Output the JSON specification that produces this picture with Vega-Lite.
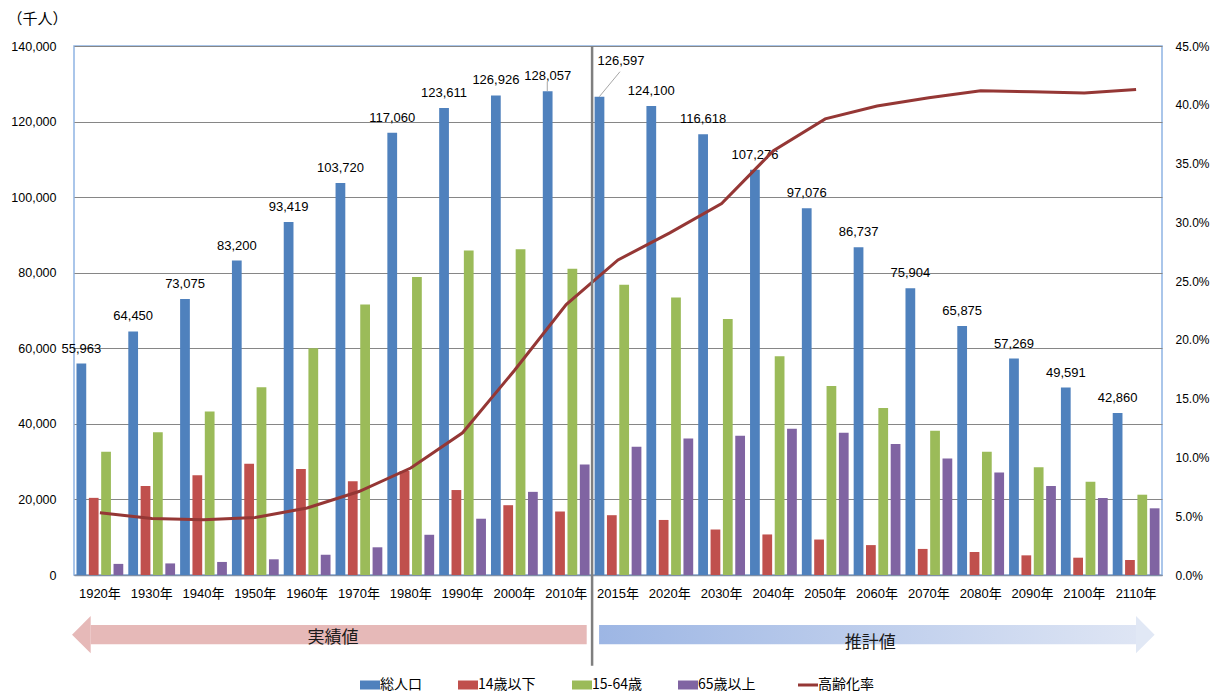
{
  "$schema": "https://vega.github.io/schema/vega-lite/v6.json",
  "width": 1088,
  "height": 529,
  "autosize": {"type": "none"},
  "padding": {"left": 74, "top": 46, "right": 48, "bottom": 119},
  "config": {
    "font": "Liberation Sans, Noto Sans CJK JP",
    "view": {"stroke": "#8EB4E3", "strokeWidth": 1.5},
    "legend": {"layout": {"bottom": {"anchor": "middle"}}}
  },
  "datasets": {
    "pop": [
      {"year": "1920年", "series": "総人口", "value": 55963},
      {"year": "1920年", "series": "14歳以下", "value": 20416},
      {"year": "1920年", "series": "15-64歳", "value": 32605},
      {"year": "1920年", "series": "65歳以上", "value": 2941},
      {"year": "1930年", "series": "総人口", "value": 64450},
      {"year": "1930年", "series": "14歳以下", "value": 23579},
      {"year": "1930年", "series": "15-64歳", "value": 37807},
      {"year": "1930年", "series": "65歳以上", "value": 3064},
      {"year": "1940年", "series": "総人口", "value": 73075},
      {"year": "1940年", "series": "14歳以下", "value": 26369},
      {"year": "1940年", "series": "15-64歳", "value": 43252},
      {"year": "1940年", "series": "65歳以上", "value": 3454},
      {"year": "1950年", "series": "総人口", "value": 83200},
      {"year": "1950年", "series": "14歳以下", "value": 29428},
      {"year": "1950年", "series": "15-64歳", "value": 49658},
      {"year": "1950年", "series": "65歳以上", "value": 4155},
      {"year": "1960年", "series": "総人口", "value": 93419},
      {"year": "1960年", "series": "14歳以下", "value": 28067},
      {"year": "1960年", "series": "15-64歳", "value": 60002},
      {"year": "1960年", "series": "65歳以上", "value": 5350},
      {"year": "1970年", "series": "総人口", "value": 103720},
      {"year": "1970年", "series": "14歳以下", "value": 24823},
      {"year": "1970年", "series": "15-64歳", "value": 71566},
      {"year": "1970年", "series": "65歳以上", "value": 7331},
      {"year": "1980年", "series": "総人口", "value": 117060},
      {"year": "1980年", "series": "14歳以下", "value": 27507},
      {"year": "1980年", "series": "15-64歳", "value": 78835},
      {"year": "1980年", "series": "65歳以上", "value": 10647},
      {"year": "1990年", "series": "総人口", "value": 123611},
      {"year": "1990年", "series": "14歳以下", "value": 22486},
      {"year": "1990年", "series": "15-64歳", "value": 85904},
      {"year": "1990年", "series": "65歳以上", "value": 14895},
      {"year": "2000年", "series": "総人口", "value": 126926},
      {"year": "2000年", "series": "14歳以下", "value": 18472},
      {"year": "2000年", "series": "15-64歳", "value": 86220},
      {"year": "2000年", "series": "65歳以上", "value": 22005},
      {"year": "2010年", "series": "総人口", "value": 128057},
      {"year": "2010年", "series": "14歳以下", "value": 16803},
      {"year": "2010年", "series": "15-64歳", "value": 81032},
      {"year": "2010年", "series": "65歳以上", "value": 29246},
      {"year": "2015年", "series": "総人口", "value": 126597},
      {"year": "2015年", "series": "14歳以下", "value": 15827},
      {"year": "2015年", "series": "15-64歳", "value": 76818},
      {"year": "2015年", "series": "65歳以上", "value": 33952},
      {"year": "2020年", "series": "総人口", "value": 124100},
      {"year": "2020年", "series": "14歳以下", "value": 14568},
      {"year": "2020年", "series": "15-64歳", "value": 73408},
      {"year": "2020年", "series": "65歳以上", "value": 36124},
      {"year": "2030年", "series": "総人口", "value": 116618},
      {"year": "2030年", "series": "14歳以下", "value": 12039},
      {"year": "2030年", "series": "15-64歳", "value": 67730},
      {"year": "2030年", "series": "65歳以上", "value": 36849},
      {"year": "2040年", "series": "総人口", "value": 107276},
      {"year": "2040年", "series": "14歳以下", "value": 10732},
      {"year": "2040年", "series": "15-64歳", "value": 57866},
      {"year": "2040年", "series": "65歳以上", "value": 38678},
      {"year": "2050年", "series": "総人口", "value": 97076},
      {"year": "2050年", "series": "14歳以下", "value": 9387},
      {"year": "2050年", "series": "15-64歳", "value": 50013},
      {"year": "2050年", "series": "65歳以上", "value": 37676},
      {"year": "2060年", "series": "総人口", "value": 86737},
      {"year": "2060年", "series": "14歳以下", "value": 7912},
      {"year": "2060年", "series": "15-64歳", "value": 44183},
      {"year": "2060年", "series": "65歳以上", "value": 34642},
      {"year": "2070年", "series": "総人口", "value": 75904},
      {"year": "2070年", "series": "14歳以下", "value": 6900},
      {"year": "2070年", "series": "15-64歳", "value": 38200},
      {"year": "2070年", "series": "65歳以上", "value": 30800},
      {"year": "2080年", "series": "総人口", "value": 65875},
      {"year": "2080年", "series": "14歳以下", "value": 6080},
      {"year": "2080年", "series": "15-64歳", "value": 32650},
      {"year": "2080年", "series": "65歳以上", "value": 27150},
      {"year": "2090年", "series": "総人口", "value": 57269},
      {"year": "2090年", "series": "14歳以下", "value": 5200},
      {"year": "2090年", "series": "15-64歳", "value": 28500},
      {"year": "2090年", "series": "65歳以上", "value": 23550},
      {"year": "2100年", "series": "総人口", "value": 49591},
      {"year": "2100年", "series": "14歳以下", "value": 4580},
      {"year": "2100年", "series": "15-64歳", "value": 24700},
      {"year": "2100年", "series": "65歳以上", "value": 20350},
      {"year": "2110年", "series": "総人口", "value": 42860},
      {"year": "2110年", "series": "14歳以下", "value": 3970},
      {"year": "2110年", "series": "15-64歳", "value": 21250},
      {"year": "2110年", "series": "65歳以上", "value": 17650}
    ],
    "rate": [
      {"year": "1920年", "rate": 5.3},
      {"year": "1930年", "rate": 4.8},
      {"year": "1940年", "rate": 4.7},
      {"year": "1950年", "rate": 4.9},
      {"year": "1960年", "rate": 5.7},
      {"year": "1970年", "rate": 7.1},
      {"year": "1980年", "rate": 9.1},
      {"year": "1990年", "rate": 12.1},
      {"year": "2000年", "rate": 17.4},
      {"year": "2010年", "rate": 23.0},
      {"year": "2015年", "rate": 26.8},
      {"year": "2020年", "rate": 29.1},
      {"year": "2030年", "rate": 31.6},
      {"year": "2040年", "rate": 36.1},
      {"year": "2050年", "rate": 38.8},
      {"year": "2060年", "rate": 39.9},
      {"year": "2070年", "rate": 40.6},
      {"year": "2080年", "rate": 41.2},
      {"year": "2090年", "rate": 41.1},
      {"year": "2100年", "rate": 41.0},
      {"year": "2110年", "rate": 41.3}
    ]
  },
  "layer": [
    {
      "data": {"name": "pop"},
      "layer": [
        {
          "mark": {"type": "bar"},
          "encoding": {
            "x": {
              "field": "year", "type": "nominal",
              "scale": {"paddingInner": 0.097, "paddingOuter": 0.048},
              "axis": {"title": null, "labelAngle": 0, "labelFontSize": 13, "labelColor": "#000000", "labelPadding": 12, "ticks": false, "domainColor": "#7F8FA6", "domainWidth": 1.5, "grid": false}
            },
            "xOffset": {
              "field": "series", "type": "nominal",
              "sort": ["総人口", "14歳以下", "15-64歳", "65歳以上"],
              "scale": {"paddingInner": 0.21, "paddingOuter": 0}
            },
            "y": {
              "field": "value", "type": "quantitative",
              "scale": {"domain": [0, 140000], "nice": false},
              "axis": {
                "title": "（千人）", "titleAngle": 0, "titleAlign": "left", "titleBaseline": "middle",
                "titleX": -67, "titleY": -28, "titleFontSize": 15, "titleFontWeight": "normal", "titleColor": "#000000",
                "titleFont": "Noto Sans CJK JP",
                "values": [0, 20000, 40000, 60000, 80000, 100000, 120000, 140000],
                "format": ",d", "grid": true, "gridColor": "#868686", "gridWidth": 1,
                "domain": false, "ticks": false, "labelFontSize": 12.5, "labelPadding": 18, "labelColor": "#000000"
              }
            },
            "color": {
              "field": "series", "type": "nominal",
              "scale": {
                "domain": ["総人口", "14歳以下", "15-64歳", "65歳以上", "高齢化率"],
                "range": ["#4F81BD", "#C0504D", "#9BBB59", "#8064A2", "#953735"]
              },
              "legend": {
                "orient": "bottom", "direction": "horizontal", "title": null,
                "labelFontSize": 14, "labelColor": "#000000", "labelOffset": 3, "labelFont": "Noto Sans CJK JP",
                "columnPadding": 36, "offset": 78,
                "symbolSize": 400, "symbolType": "M-1,-0.45H1V0.45H-1Z",
                "encode": {
                  "symbols": {
                    "update": {
                      "shape": {"signal": "datum.value === '高齢化率' ? 'M-1,0H1' : 'M-1,-0.45H1V0.45H-1Z'"},
                      "strokeWidth": {"signal": "datum.value === '高齢化率' ? 3 : 0"},
                      "stroke": {"scale": "color", "field": "value"},
                      "fill": {"scale": "color", "field": "value"},
                      "opacity": {"value": 1}
                    }
                  }
                }
              }
            }
          }
        },
        {
          "transform": [{"filter": "datum.series === '総人口' && datum.year !== '2015年'"}],
          "mark": {"type": "text", "dx": -18.5, "dy": -11, "baseline": "alphabetic", "fontSize": 13, "color": "#000000"},
          "encoding": {
            "x": {"field": "year", "type": "nominal"},
            "y": {"field": "value", "type": "quantitative"},
            "text": {"field": "value", "type": "quantitative", "format": ",d"}
          }
        },
        {
          "transform": [{"filter": "datum.series === '総人口' && datum.year === '2015年'"}],
          "mark": {"type": "text", "dx": 3, "dy": -31.5, "baseline": "alphabetic", "fontSize": 13, "color": "#000000"},
          "encoding": {
            "x": {"field": "year", "type": "nominal"},
            "y": {"field": "value", "type": "quantitative"},
            "text": {"field": "value", "type": "quantitative", "format": ",d"}
          }
        }
      ]
    },
    {
      "data": {"name": "rate"},
      "mark": {"type": "line", "strokeWidth": 3},
      "encoding": {
        "x": {"field": "year", "type": "nominal", "scale": {"paddingInner": 0.097, "paddingOuter": 0.048}, "axis": null},
        "y": {
          "field": "rate", "type": "quantitative",
          "scale": {"domain": [0, 45], "nice": false},
          "axis": {
            "orient": "right", "title": null, "values": [0, 5, 10, 15, 20, 25, 30, 35, 40, 45],
            "labelExpr": "format(datum.value, '.1f') + '%'", "grid": false, "ticks": false, "domain": false,
            "labelPadding": 13, "labelFontSize": 12, "labelColor": "#000000"
          }
        },
        "color": {"datum": "高齢化率"}
      }
    },
    {
      "layer": [
        {
          "data": {"values": [{}]},
          "mark": {"type": "rule", "color": "#7F7F7F", "strokeWidth": 2.5},
          "encoding": {
            "x": {"datum": 10.0, "type": "quantitative", "scale": {"domain": [0, 21], "nice": false, "zero": false}, "axis": null},
            "y": {"datum": 140000, "type": "quantitative", "scale": {"domain": [0, 140000], "nice": false}, "axis": null},
            "y2": {"datum": -24000}
          }
        },
        {
          "data": {"values": [{}]},
          "mark": {"type": "rule", "color": "#A6A6A6", "strokeWidth": 1},
          "encoding": {
            "x": {"datum": 10.139, "type": "quantitative", "scale": {"domain": [0, 21], "nice": false, "zero": false}, "axis": null},
            "x2": {"datum": 10.538},
            "y": {"datum": 126580, "type": "quantitative", "scale": {"domain": [0, 140000], "nice": false}, "axis": null},
            "y2": {"datum": 133200}
          }
        },
        {
          "data": {"values": [{}]},
          "mark": {"type": "rule", "color": "#A6A6A6", "strokeWidth": 1},
          "encoding": {
            "x": {"datum": 9.135, "type": "quantitative", "scale": {"domain": [0, 21], "nice": false, "zero": false}, "axis": null},
            "y": {"datum": 128100, "type": "quantitative", "scale": {"domain": [0, 140000], "nice": false}, "axis": null},
            "y2": {"datum": 130550}
          }
        },
        {
          "data": {"values": [{}]},
          "mark": {"type": "rect", "color": "#E6B9B8"},
          "encoding": {
            "x": {"datum": 0.322, "type": "quantitative", "scale": {"domain": [0, 21], "nice": false, "zero": false}, "axis": null},
            "x2": {"datum": 9.896},
            "y": {"datum": -13230, "type": "quantitative", "scale": {"domain": [0, 140000], "nice": false}, "axis": null},
            "y2": {"datum": -18340}
          }
        },
        {
          "data": {"values": [{}]},
          "mark": {"type": "point", "shape": "M0.5,-1L-0.5,0L0.5,1Z", "size": 1391, "filled": true, "opacity": 1, "color": "#E6B9B8", "strokeWidth": 0},
          "encoding": {
            "x": {"datum": 0.142, "type": "quantitative", "scale": {"domain": [0, 21], "nice": false, "zero": false}, "axis": null},
            "y": {"datum": -15790, "type": "quantitative", "scale": {"domain": [0, 140000], "nice": false}, "axis": null}
          }
        },
        {
          "data": {"values": [{}]},
          "mark": {
            "type": "rect",
            "color": {"gradient": "linear", "x1": 0, "y1": 0, "x2": 1, "y2": 0, "stops": [{"offset": 0, "color": "#9DB6E4"}, {"offset": 1, "color": "#DEE5F4"}]}
          },
          "encoding": {
            "x": {"datum": 10.135, "type": "quantitative", "scale": {"domain": [0, 21], "nice": false, "zero": false}, "axis": null},
            "x2": {"datum": 20.5},
            "y": {"datum": -13230, "type": "quantitative", "scale": {"domain": [0, 140000], "nice": false}, "axis": null},
            "y2": {"datum": -18340}
          }
        },
        {
          "data": {"values": [{}]},
          "mark": {"type": "point", "shape": "M-0.5,-1L0.5,0L-0.5,1Z", "size": 1391, "filled": true, "opacity": 1, "color": "#E1E8F5", "strokeWidth": 0},
          "encoding": {
            "x": {"datum": 20.678, "type": "quantitative", "scale": {"domain": [0, 21], "nice": false, "zero": false}, "axis": null},
            "y": {"datum": -15790, "type": "quantitative", "scale": {"domain": [0, 140000], "nice": false}, "axis": null}
          }
        },
        {
          "data": {"values": [{"label": "実績値"}]},
          "mark": {"type": "text", "fontSize": 17, "color": "#1A1A1A", "font": "Noto Sans CJK JP", "baseline": "middle"},
          "encoding": {
            "x": {"datum": 5.0, "type": "quantitative", "scale": {"domain": [0, 21], "nice": false, "zero": false}, "axis": null},
            "y": {"datum": -16670, "type": "quantitative", "scale": {"domain": [0, 140000], "nice": false}, "axis": null},
            "text": {"field": "label"}
          }
        },
        {
          "data": {"values": [{"label": "推計値"}]},
          "mark": {"type": "text", "fontSize": 17, "color": "#1A1A1A", "font": "Noto Sans CJK JP", "baseline": "middle"},
          "encoding": {
            "x": {"datum": 15.37, "type": "quantitative", "scale": {"domain": [0, 21], "nice": false, "zero": false}, "axis": null},
            "y": {"datum": -17990, "type": "quantitative", "scale": {"domain": [0, 140000], "nice": false}, "axis": null},
            "text": {"field": "label"}
          }
        }
      ]
    }
  ],
  "resolve": {"scale": {"x": "independent", "y": "independent"}}
}
